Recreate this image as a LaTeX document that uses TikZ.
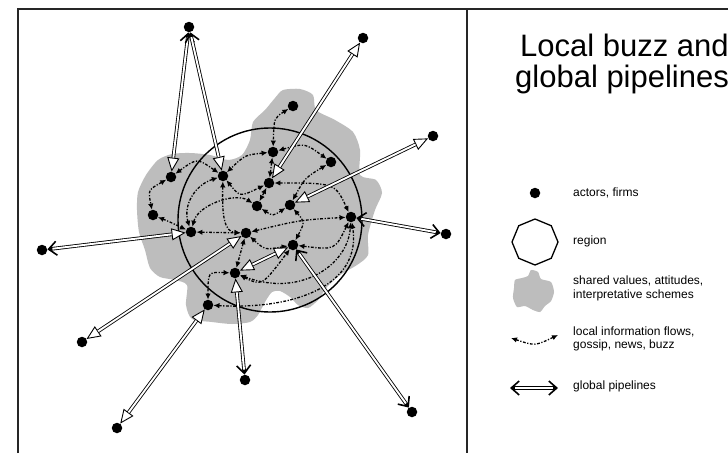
\documentclass[tikz,border=0pt]{standalone}
\usepackage{fontspec}
\setmainfont{Liberation Sans}
\usetikzlibrary{arrows.meta,shapes.geometric}
\tikzset{
  ptri/.tip={Triangle[fill=white,length=14pt,width=12pt,line width=0.9pt]},
  pbarb/.tip={Straight Barb[length=8pt,width=14pt,line width=1.6pt]},
  ftip/.tip={Latex[length=6pt,width=5.5pt]},
  actor/.style={circle,fill=black,inner sep=0pt,minimum size=10.5pt},
  flow/.style={line width=1.3pt,dash pattern=on 2.8pt off 1.6pt on 1.2pt off 1.6pt,ftip-ftip},
  pipeo/.style={line width=3.6pt,black},
  pipei/.style={line width=1.9pt,white},
  frameline/.style={line width=1.6pt,black!85},
  lbl/.style={anchor=west,font=\fontsize{12}{13.5}\selectfont,align=left,inner sep=0pt},
  ttl/.style={anchor=base west,font=\fontsize{31}{31}\selectfont,inner sep=0pt},
}
\begin{document}
\begin{tikzpicture}[x=1pt,y=-1pt]
\useasboundingbox (0,0) rectangle (728,453);
\fill[white] (0,0) rectangle (728,453);
% frame
\draw[frameline] (18,453) -- (18,9) -- (728,9);
\draw[frameline] (467,9) -- (467,453);
% shared values blob
\fill[black!26] plot[smooth cycle,tension=0.45] coordinates {
 (283,90) (300,89) (313,95) (316,110) (335,120) (353,132) (360,150) (360,175)
 (376,180) (382,193) (375,210) (368,235) (368,255) (357,265) (340,275) (327,287)
 (318,300) (308,308) (298,305) (290,297) (280,291) (272,292) (265,302) (258,315)
 (250,322) (232,324) (212,322) (192,319) (186,305) (187,285) (175,280) (160,277)
 (150,268) (145,250) (139,232) (137,210) (138,192) (146,175) (158,160) (172,154)
 (190,153) (210,155) (228,160) (242,155) (250,140) (253,122) (265,110) (275,98)};
% region
\node[circle,draw,minimum size=184pt,line width=1.4pt] (region) at (270,220) {};
% actors
\node[actor] (a) at (171,177) {};
\node[actor] (b) at (153,215) {};
\node[actor] (c) at (191,232) {};
\node[actor] (d) at (223,176) {};
\node[actor] (e) at (273,152) {};
\node[actor] (f) at (331,162) {};
\node[actor] (g) at (293,106) {};
\node[actor] (h) at (269,183) {};
\node[actor] (i) at (257,206) {};
\node[actor] (j) at (290,205) {};
\node[actor] (k) at (246,233) {};
\node[actor] (l) at (351,217) {};
\node[actor] (m) at (293,245) {};
\node[actor] (n) at (235,273) {};
\node[actor] (o) at (208,305) {};
\node[actor] (T1) at (189,27) {};
\node[actor] (T2) at (363,38) {};
\node[actor] (R1) at (433,136) {};
\node[actor] (R2) at (446,234) {};
\node[actor] (BR) at (412,412) {};
\node[actor] (BC) at (245,380) {};
\node[actor] (BL) at (117,428) {};
\node[actor] (L2) at (82,342) {};
\node[actor] (L1) at (42,250) {};
% local flows
\draw[flow] (g) .. controls (274,118) .. (e);
\draw[flow] (e) .. controls (245,155) .. (d);
\draw[flow] (e) .. controls (305,143) .. (f);
\draw[flow] (e) -- (h);
\draw[flow] (f) .. controls (305,178) .. (j);
\draw[flow] (h) .. controls (335,183) .. (l);
\draw[flow] (d) .. controls (240,197) .. (h);
\draw[flow] (h) -- (i);
\draw[flow] (a) .. controls (197,158) .. (d);
\draw[flow] (a) .. controls (148,190) .. (b);
\draw[flow] (b) .. controls (170,222) .. (c);
\draw[flow] (c) .. controls (183,205) and (195,185) .. (d);
\draw[flow] (c) .. controls (198,205) and (235,192) .. (i);
\draw[flow] (c) -- (k);
\draw[flow] (d) .. controls (222,215) and (224,232) .. (k);
\draw[flow] (k) -- (n);
\draw[flow] (k) .. controls (265,250) .. (m);
\draw[flow] (k) .. controls (300,220) .. (l);
\draw[flow] (i) .. controls (273,216) .. (j);
\draw[flow] (j) .. controls (305,222) .. (m);
\draw[flow] (m) .. controls (335,250) .. (l);
\draw[flow] (n) .. controls (262,286) .. (m);
\draw[flow] (n) .. controls (300,298) and (348,265) .. (l);
\draw[flow] (o) .. controls (295,310) and (362,285) .. (l);
\draw[flow] (n) .. controls (208,272) .. (o);
% global pipelines (outer black pass, inner white pass)
\draw[pipeo,pbarb-ptri] (T1) -- (a);
\draw[pipei,shorten <=5pt,shorten >=14pt] (T1) -- (a);
\draw[pipeo,pbarb-ptri] (T1) -- (d);
\draw[pipei,shorten <=5pt,shorten >=14pt] (T1) -- (d);
\draw[pipeo,ptri-ptri] (T2) -- (h);
\draw[pipei,shorten <=14pt,shorten >=14pt] (T2) -- (h);
\draw[pipeo,ptri-ptri] (R1) -- (j);
\draw[pipei,shorten <=14pt,shorten >=14pt] (R1) -- (j);
\draw[pipeo,pbarb-pbarb] (R2) -- (l);
\draw[pipei,shorten <=5pt,shorten >=5pt] (R2) -- (l);
\draw[pipeo,pbarb-pbarb] (BR) -- (m);
\draw[pipei,shorten <=5pt,shorten >=5pt] (BR) -- (m);
\draw[pipeo,pbarb-ptri] (BC) -- (n);
\draw[pipei,shorten <=5pt,shorten >=14pt] (BC) -- (n);
\draw[pipeo,ptri-ptri] (BL) -- (o);
\draw[pipei,shorten <=14pt,shorten >=14pt] (BL) -- (o);
\draw[pipeo,ptri-ptri] (L2) -- (k);
\draw[pipei,shorten <=14pt,shorten >=14pt] (L2) -- (k);
\draw[pipeo,pbarb-ptri] (L1) -- (c);
\draw[pipei,shorten <=5pt,shorten >=14pt] (L1) -- (c);
\draw[pipeo,ptri-ptri] (n) -- (m);
\draw[pipei,shorten <=14pt,shorten >=14pt] (n) -- (m);
% title
\node[ttl] (t1) at (520,56.5) {Local buzz and};
\node[ttl] (t2) at (515,87) {global pipelines};
% legend
\node[actor] (la) at (535,193) {};
\node[lbl] (lta) at (573,193) {actors, firms};
\node[regular polygon,regular polygon sides=8,draw,line width=1.3pt,minimum size=46pt,shape border rotate=22.5] (lr) at (535,242) {};
\node[lbl] (ltr) at (573,241) {region};
\fill[black!26] plot[smooth cycle,tension=0.4] coordinates {
 (515,280) (522,278) (528,276) (531,270) (538,272) (541,279) (551,282) (554,292)
 (551,301) (545,306) (540,312) (533,310) (525,306) (517,307) (513,298) (514,288)};
\node[lbl] (lts) at (573,288.5) {shared values, attitudes,\\interpretative schemes};
\coordinate (fl1) at (511,338);
\coordinate (fl2) at (558,335);
\draw[flow] (fl1) .. controls (535,346) .. (fl2);
\node[lbl] (ltf) at (573,339) {local information flows,\\gossip, news, buzz};
\coordinate (gp1) at (510,388);
\coordinate (gp2) at (558,388);
\draw[pipeo,pbarb-pbarb] (gp1) -- (gp2);
\draw[pipei,shorten <=5pt,shorten >=5pt] (gp1) -- (gp2);
\node[lbl] (ltg) at (573,386) {global pipelines};
\end{tikzpicture}
\end{document}
